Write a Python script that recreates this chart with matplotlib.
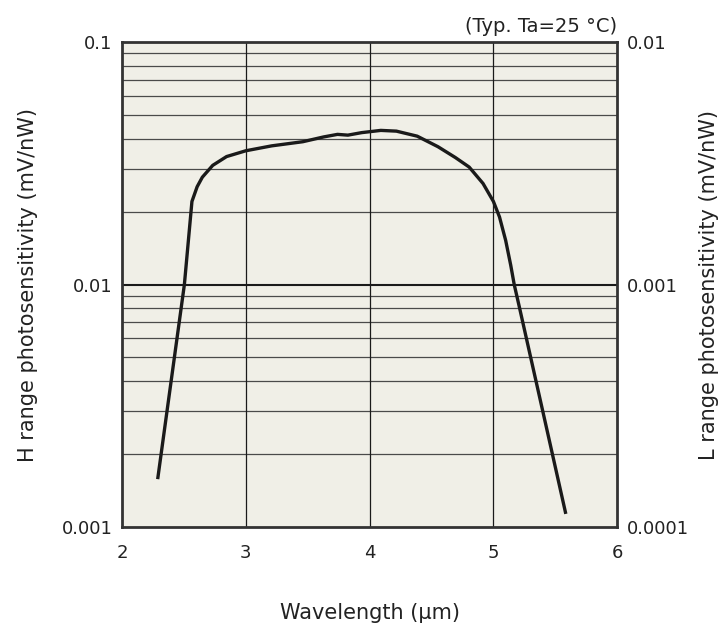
import matplotlib
matplotlib.use("Agg")
import matplotlib.pyplot as plt
from matplotlib.ticker import FixedLocator, NullLocator

# spectral response
wavelength = [2.29, 2.504, 2.565, 2.607, 2.649, 2.733, 2.845, 3.0, 3.209, 3.461,
              3.629, 3.741, 3.825, 3.937, 4.091, 4.217, 4.385, 4.553, 4.693, 4.805,
              4.917, 5.001, 5.05, 5.10, 5.141, 5.169, 5.21, 5.40, 5.583]
sens_h = [0.0016, 0.0100, 0.0220, 0.0253, 0.0277, 0.0310, 0.0337, 0.0356, 0.0373,
          0.0388, 0.0406, 0.0416, 0.0413, 0.0423, 0.0432, 0.0429, 0.0409, 0.0370, 0.0334,
          0.0305, 0.0261, 0.0220, 0.0190, 0.0152, 0.0120, 0.0100, 0.0081, 0.0030, 0.00115]

x_ticks = [2, 3, 4, 5, 6]
left_ticks = [0.001, 0.01, 0.1]
left_labels = ["0.001", "0.01", "0.1"]
right_ticks = [0.0001, 0.001, 0.01]
right_labels = ["0.0001", "0.001", "0.01"]

fig = plt.figure(figsize=(7.28, 6.27), dpi=100)
ax = fig.add_axes([0.1676, 0.1595, 0.68, 0.7735])
ax.set_facecolor("#f0efe7")

ax.set_yscale("log")
ax.set_xlim(2, 6)
ax.set_ylim(0.001, 0.1)

# grid lines
for d in [0.001, 0.01]:
    for m in range(2, 10):
        ax.axhline(d * m, color="#4a4a4a", lw=0.9, zorder=1)
ax.axhline(0.01, color="#1a1a1a", lw=1.5, zorder=1)
for xv in x_ticks[1:-1]:
    ax.axvline(xv, color="#1a1a1a", lw=0.9, zorder=1)

ax.plot(wavelength, sens_h, color="#1a1a1a", lw=2.4, zorder=3)

ax.xaxis.set_major_locator(FixedLocator(x_ticks))
ax.set_xticklabels([str(v) for v in x_ticks])
ax.yaxis.set_major_locator(FixedLocator(left_ticks))
ax.yaxis.set_minor_locator(NullLocator())
ax.set_yticklabels(left_labels)
ax.tick_params(length=0, labelsize=13, colors="#222222")
ax.tick_params(axis="x", pad=12)
ax.tick_params(axis="y", pad=7)

for s in ax.spines.values():
    s.set_linewidth(2)
    s.set_color("#333333")

ax2 = ax.twinx()
ax2.set_yscale("log")
ax2.set_ylim(0.0001, 0.01)
ax2.yaxis.set_major_locator(FixedLocator(right_ticks))
ax2.yaxis.set_minor_locator(NullLocator())
ax2.set_yticklabels(right_labels)
ax2.tick_params(length=0, labelsize=13, colors="#222222", pad=7)
for s in ax2.spines.values():
    s.set_visible(False)

ax.set_xlabel("Wavelength (μm)", fontsize=15, color="#222222", labelpad=30)
ax.set_ylabel("H range photosensitivity (mV/nW)", fontsize=15, color="#222222", labelpad=17)
ax2.set_ylabel("L range photosensitivity (mV/nW)", fontsize=15, color="#222222", labelpad=7)

ax.text(1.0, 1.012, "(Typ. Ta=25 °C)", transform=ax.transAxes, ha="right", va="bottom",
        fontsize=14, color="#222222")

fig.savefig("out.png", dpi=100)
